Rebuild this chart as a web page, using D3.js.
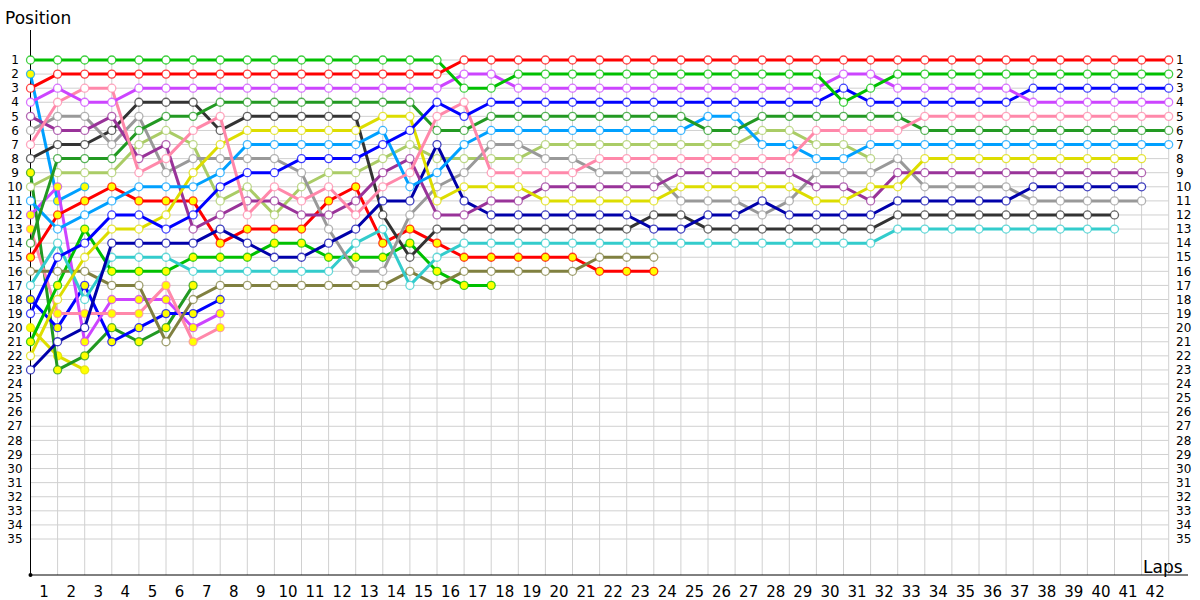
<!DOCTYPE html>
<html>
<head>
<meta charset="utf-8">
<script src="https://cdn.jsdelivr.net/npm/d3@7"></script>
<style>
body { margin: 0; background: #fff; }
</style>
</head>
<body>
<div id="chart"></div>
<script>
var width = 1200, height = 600

// position of each driver per lap, lap 0 = grid
const green1 = [1,1,1,1,1,1,1,1,1,1,1,1,1,1,1,1, 3,3, 2,2,2,2,2,2,2,2,2,2,2,2, 4,3, 2,2,2,2,2,2,2,2,2,2,2]
const red1 = [3, 2,2,2,2,2,2,2,2,2,2,2,2,2,2,2, 1,1,1,1,1,1,1,1,1,1,1,1,1,1,1,1,1,1,1,1,1,1,1,1,1,1,1]
const magenta1 = [4,3,4,4, 3,3,3,3,3,3,3,3,3,3,3,3, 2,2, 3,3,3,3,3,3,3,3,3,3,3,3, 2,2, 3,3,3,3,3, 4,4,4,4,4,4]
const blue1 = [19,15,14,12,12,13,12,10,9,9,8,8,8,7,6,4,5, 4,4,4,4,4,4,4,4,4,4,4,4,4, 3, 4,4,4,4,4,4, 3,3,3,3,3,3]
const pink1 = [7,4,3,3,9,8,6,5,12,10,11,10,12,10,9,5,4,9,9,9,9, 8,8,8,8,8,8,8,8, 6,6,6,6, 5,5,5,5,5,5,5,5,5,5]
const dgreen1 = [14,8,8,8,6,5,5, 4,4,4,4,4,4,4,4, 6,6, 5,5,5,5,5,5,5,5, 6,6, 5,5,5,5,5,5, 6,6,6,6,6,6,6,6,6,6]
const lblue1 = [11,13,12,11,10,10,10,9,7,7,7,7,7,6,10,9,7, 6,6,6,6,6,6,6,6, 5,5, 7,7, 8,8, 7,7,7,7,7,7,7,7,7,7,7,7]
const yellow1 = [22,18,15,13,13,12,9,7, 6,6,6,6,6, 5,5, 11, 10,10,10, 11,11,11,11,11, 10,10,10,10,10, 11,11, 10,10, 8,8,8,8,8,8,8,8,8]
const purple1 = [5,6,6,5,8,7,13,12,11,11,12,12,11,9,8,12,12,11,11, 10,10,10,10,10, 9,9,9,9,9, 10,10, 11, 9,9,9,9,9,9,9,9,9,9]
const navy1 = [23,21,20,14,14,14,14,13,14,15,15,14,13,11,11,7,11, 12,12,12,12,12,12, 13,13, 12,12, 11, 12,12,12,12, 11,11,11,11,11, 10,10,10,10,10]
const gray1 = [6,5,5,7,5,9,8,8,8,8,9,13,16,16,12,10,9,7,7,8,8,9,9,9, 11,11,11, 12, 11, 9,9,9, 8, 10,10,10,10, 11,11,11,11,11]
const black1 = [8,7,7,6,4,4,4,6,5,5,5,5,5,12,15, 13,13,13,13,13,13,13,13, 12,12, 13,13,13,13,13,13,13, 12,12,12,12,12,12,12,12,12]
const cyan1 = [17,14,18,15,15,15, 16,16,16,16,16,16, 14,13,17,15, 14,14,14,14,14,14,14,14,14,14,14,14,14,14,14,14, 13,13,13,13,13,13,13,13,13]
const lgreen1 = [10,9,9,9,7,6,7,11,10,12,10,9,9,8,7, 8,8,8,8, 7,7,7,7,7,7,7,7, 6,6, 7,7, 8]
const olive1 = [16,16,16,17,17,21,18, 17,17,17,17,17,17,17, 16, 17, 16,16,16,16,16, 15,15,15]
const red2 = [15,12,11,10,11,11,11,14,13,13,13,11,10,14,13,14, 15,15,15,15,15, 16,16,16]
const green2 = [21,17,13,16,16,16,15,15,15,14,14,15,15,15,14,16,17,17]
const pink2 = [13,19,19,19,19,17,21,20]
const magenta2 = [12,10,21,18,18,18,20,19]
const blue2 = [18,20,17,21,20,19,19,18]
const dgreen2 = [9,23,22,20,21,20,17]
const yellow2 = [20,22,23]
const lblue2 = [2,11,10]

const driverNames = ["yellow2","lblue2","dgreen2","blue2","magenta2","pink2","green2","red2","olive1",
	"lgreen1","cyan1","black1","gray1","navy1","purple1","yellow1","lblue1","dgreen1","pink1","blue1",
	"magenta1","green1","red1"]
const driverPos = {green1, red1, magenta1, blue1, pink1, dgreen1, lblue1, yellow1, purple1, navy1, gray1,
	black1, cyan1, lgreen1, olive1, red2, green2, pink2, magenta2, blue2, dgreen2, yellow2, lblue2}
// drivers whose markers are drawn with yellow fill
const yellowMarked = ["lblue2","dgreen2","magenta2","pink2","red2","blue2","yellow2","green2"]

const lapTicks = d3.range(1, 43)
const posTicks = d3.range(1, 36)

const colors = {
	green1: "#00c000", green2: "#00c000", red1: "#ff0000", red2: "#ff0000",
	magenta1: "#cc44ff", magenta2: "#cc44ff", blue1: "#0000ff", blue2: "#0000ff",
	pink1: "#ff88aa", pink2: "#ff88aa", dgreen1: "#229922", dgreen2: "#229922",
	lblue1: "#00a0ff", lblue2: "#00a0ff", yellow1: "#dddd00", yellow2: "#dddd00",
	purple1: "#993399", navy1: "#0000aa", gray1: "#999999", black1: "#333333",
	cyan1: "#33cccc", lgreen1: "#aacc66", olive1: "#808040"
}

const svg = d3.select('#chart')
	.append('svg')
	.attr('width', width)
	.attr('height', height)
	.style('font-family', 'Tahoma, "DejaVu Sans", sans-serif')

const x = d3.scaleLinear().domain([0, 42]).range([30.5, 1168.7])
const y = d3.scaleLinear().domain([1, 35]).range([60, 539])
const yAxisY = 575

// grid
svg.append('g')
	.selectAll('line')
	.data(posTicks)
	.join('line')
	.attr('x1', x(0)).attr('x2', x(42))
	.attr('y1', d => y(d)).attr('y2', d => y(d))
	.attr('stroke', '#d0d0d0')

svg.append('g')
	.selectAll('line')
	.data(lapTicks)
	.join('line')
	.attr('x1', d => x(d)).attr('x2', d => x(d))
	.attr('y1', y(1) - 3).attr('y2', yAxisY)
	.attr('stroke', '#d0d0d0')

// position labels both sides
svg.append('g')
	.selectAll('text')
	.data(posTicks)
	.join('text')
	.attr('x', 15)
	.attr('y', d => y(d))
	.attr('dy', '0.35em')
	.attr('text-anchor', 'middle')
	.style('font-size', '12px')
	.text(d => d)

svg.append('g')
	.selectAll('text')
	.data(posTicks)
	.join('text')
	.attr('x', 1176)
	.attr('y', d => y(d))
	.attr('dy', '0.35em')
	.style('font-size', '12px')
	.text(d => d)

// lap labels sit between grid lines
svg.append('g')
	.selectAll('text')
	.data(lapTicks)
	.join('text')
	.attr('x', d => x(d - 0.5))
	.attr('y', 597)
	.attr('text-anchor', 'middle')
	.style('font-size', '15px')
	.text(d => d)

// axes
svg.append('line')
	.attr('x1', x(0)).attr('x2', x(0))
	.attr('y1', 30).attr('y2', yAxisY)
	.attr('stroke', '#000')
svg.append('line')
	.attr('x1', x(0)).attr('x2', 1188)
	.attr('y1', yAxisY).attr('y2', yAxisY)
	.attr('stroke', '#000')
svg.append('circle')
	.attr('cx', x(0)).attr('cy', yAxisY).attr('r', 2)

svg.append('text')
	.attr('x', 5).attr('y', 24)
	.style('font-size', '17px')
	.text('Position')
svg.append('text')
	.attr('x', 1143).attr('y', 573)
	.style('font-size', '17px')
	.text('Laps')

const line = d3.line()
	.x((d, i) => x(i))
	.y(d => y(d))

const g = svg.append('g')

driverNames.forEach(name => {
	const pos = driverPos[name]
	const c = colors[name]
	const dg = g.append('g')
	dg.append('path')
		.datum(pos)
		.attr('d', line)
		.attr('fill', 'none')
		.attr('stroke', c)
		.attr('stroke-width', 3)
		.attr('stroke-linejoin', 'round')
	dg.selectAll('circle')
		.data(pos)
		.join('circle')
		.attr('cx', (d, i) => x(i))
		.attr('cy', d => y(d))
		.attr('r', 4)
		.attr('fill', yellowMarked.includes(name) ? '#ffff00' : '#fff')
		.attr('stroke', c)
		.attr('stroke-opacity', 0.75)
		.attr('stroke-width', 1.3)
})
</script>
</body>
</html>
